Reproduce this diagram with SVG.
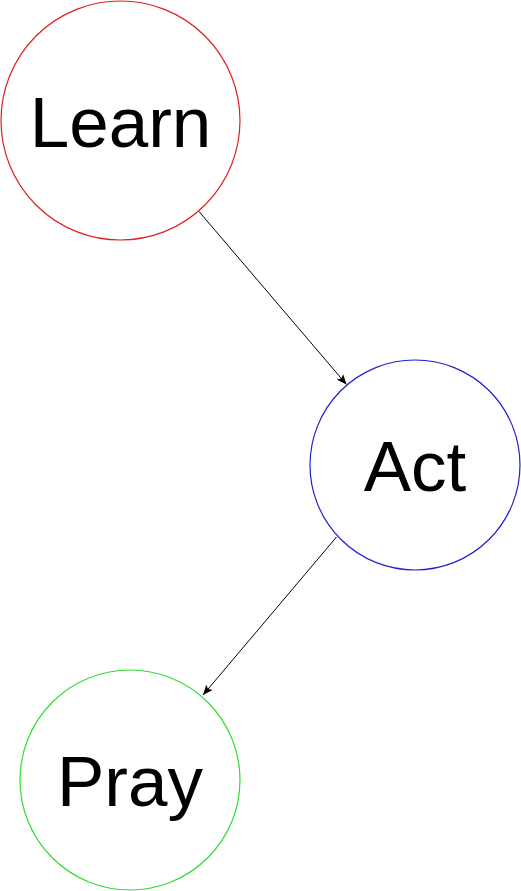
<svg xmlns="http://www.w3.org/2000/svg" width="521" height="891" viewBox="0 0 521 891">
<style>
.node circle{fill:#fff;stroke-width:1.2}
.node text{font-family:"Liberation Sans",Arial,sans-serif;font-size:71px;fill:#000;text-anchor:middle}
.edge{stroke:#000;stroke-width:1;fill:none;marker-end:url(#arr)}
</style>
<defs>
<marker id="arr" viewBox="0 0 10 10" refX="10" refY="5" markerWidth="10" markerHeight="10" markerUnits="userSpaceOnUse" orient="auto">
<path d="M0,0.8 L10,5 L0,9.2 L2,5 Z" fill="#000"/>
</marker>
</defs>
<rect width="521" height="891" fill="#fff"/>
<g id="learn" class="node"><circle cx="120.5" cy="120.5" r="119.5" stroke="#dd2020"/><text x="120.5" y="146.5">Learn</text></g>
<g id="act" class="node"><circle cx="415" cy="465" r="105" stroke="#2020cc"/><text x="415" y="491">Act</text></g>
<g id="pray" class="node"><circle cx="130" cy="780" r="110" stroke="#30dd30"/><text x="130" y="806">Pray</text></g>
<g id="connectors">
<line class="edge" x1="199" y1="211.5" x2="346.5" y2="384.5"/>
<line class="edge" x1="336.5" y1="537" x2="203" y2="695"/>
</g>
</svg>
